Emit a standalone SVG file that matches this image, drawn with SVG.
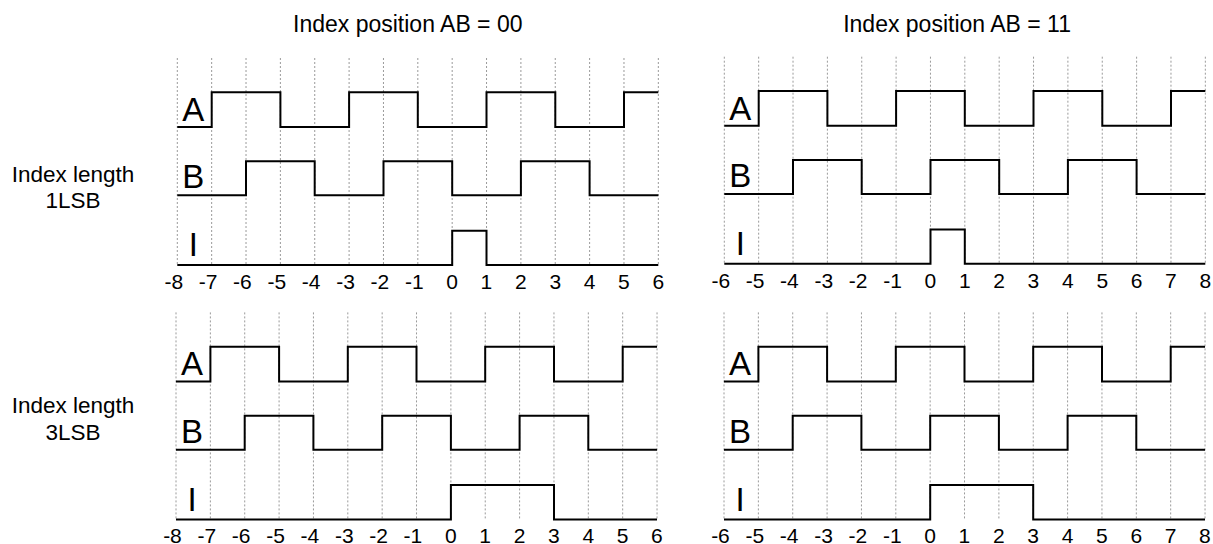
<svg xmlns="http://www.w3.org/2000/svg" xmlns:xlink="http://www.w3.org/1999/xlink" width="1213" height="544" viewBox="0 0 1213 544">
<style>
  text { font-family: "Liberation Sans", Arial, sans-serif; fill: #000; }
  .title { font-size: 23px; }
  .side { font-size: 22.5px; text-anchor: middle; }
  .sig { font-size: 33px; text-anchor: middle; }
  .ax { font-size: 21px; text-anchor: end; }
  .grid { stroke: #9a9a9a; stroke-width: 1; stroke-dasharray: 2 2; fill: none; }
  .wave { stroke: #000; stroke-width: 2; fill: none; stroke-linejoin: miter; }
</style>
<defs>
  <path id="grid" class="grid" d="M0,-34.3V172.7M34.36,-34.3V172.7M68.72,-34.3V172.7M103.08,-34.3V172.7M137.44,-34.3V172.7M171.8,-34.3V172.7M206.16,-34.3V172.7M240.52,-34.3V172.7M274.88,-34.3V172.7M309.24,-34.3V172.7M343.6,-34.3V172.7M377.96,-34.3V172.7M412.32,-34.3V172.7M446.68,-34.3V172.7M481.04,-34.3V172.7"/>
  <path id="waveA" class="wave" d="M0,34.7H34.4V0H103.1V34.7H171.8V0H240.5V34.7H309.2V0H378V34.7H446.7V0H481"/>
  <path id="waveB" class="wave" d="M0,103H68.7V69H137.4V103H206.2V69H274.9V103H343.6V69H412.3V103H481"/>
  <g id="labelsABI">
    <text class="sig" x="16" y="28.5">A</text>
    <text class="sig" x="16" y="96">B</text>
    <text class="sig" x="16" y="164">I</text>
  </g>
  <g id="axisLeft">
    <text class="ax" x="5.8" y="196.5">-8</text>
    <text class="ax" x="40.2" y="196.5">-7</text>
    <text class="ax" x="74.5" y="196.5">-6</text>
    <text class="ax" x="108.9" y="196.5">-5</text>
    <text class="ax" x="143.2" y="196.5">-4</text>
    <text class="ax" x="177.6" y="196.5">-3</text>
    <text class="ax" x="212" y="196.5">-2</text>
    <text class="ax" x="246.3" y="196.5">-1</text>
    <text class="ax" x="280.7" y="196.5">0</text>
    <text class="ax" x="315" y="196.5">1</text>
    <text class="ax" x="349.4" y="196.5">2</text>
    <text class="ax" x="383.8" y="196.5">3</text>
    <text class="ax" x="418.1" y="196.5">4</text>
    <text class="ax" x="452.5" y="196.5">5</text>
    <text class="ax" x="486.8" y="196.5">6</text>
  </g>
  <g id="axisRight">
    <text class="ax" x="5.8" y="196.5">-6</text>
    <text class="ax" x="40.2" y="196.5">-5</text>
    <text class="ax" x="74.5" y="196.5">-4</text>
    <text class="ax" x="108.9" y="196.5">-3</text>
    <text class="ax" x="143.2" y="196.5">-2</text>
    <text class="ax" x="177.6" y="196.5">-1</text>
    <text class="ax" x="212" y="196.5">0</text>
    <text class="ax" x="246.3" y="196.5">1</text>
    <text class="ax" x="280.7" y="196.5">2</text>
    <text class="ax" x="315" y="196.5">3</text>
    <text class="ax" x="349.4" y="196.5">4</text>
    <text class="ax" x="383.8" y="196.5">5</text>
    <text class="ax" x="418.1" y="196.5">6</text>
    <text class="ax" x="452.5" y="196.5">7</text>
    <text class="ax" x="486.8" y="196.5">8</text>
  </g>
</defs>

<g id="titles">
  <text class="title" x="293" y="32.3">Index position AB = 00</text>
  <text class="title" x="1071" y="32.3" text-anchor="end">Index position AB = 11</text>
</g>

<g id="row-labels">
  <text class="side" x="73" y="181.7">Index length</text>
  <text class="side" x="73" y="208.3">1LSB</text>
  <text class="side" x="73" y="413.3">Index length</text>
  <text class="side" x="73" y="440">3LSB</text>
</g>

<g id="panel-1lsb-ab00" transform="translate(177.3,92.3)">
  <use xlink:href="#grid" href="#grid"/>
  <use xlink:href="#waveA" href="#waveA"/>
  <use xlink:href="#waveB" href="#waveB"/>
  <path class="wave" d="M0,172.7H274.9V138.4H309.2V172.7H481"/>
  <use xlink:href="#labelsABI" href="#labelsABI"/>
  <use xlink:href="#axisLeft" href="#axisLeft"/>
</g>

<g id="panel-1lsb-ab11" transform="translate(724.3,91)">
  <use xlink:href="#grid" href="#grid"/>
  <use xlink:href="#waveA" href="#waveA"/>
  <use xlink:href="#waveB" href="#waveB"/>
  <path class="wave" d="M0,172.7H206.2V138.4H240.5V172.7H481"/>
  <use xlink:href="#labelsABI" href="#labelsABI"/>
  <use xlink:href="#axisRight" href="#axisRight"/>
</g>

<g id="panel-3lsb-ab00" transform="translate(176,346.7)">
  <use xlink:href="#grid" href="#grid"/>
  <use xlink:href="#waveA" href="#waveA"/>
  <use xlink:href="#waveB" href="#waveB"/>
  <path class="wave" d="M0,172.7H274.9V138.4H378V172.7H481"/>
  <use xlink:href="#labelsABI" href="#labelsABI"/>
  <use xlink:href="#axisLeft" href="#axisLeft"/>
</g>

<g id="panel-3lsb-ab11" transform="translate(724,346.7)">
  <use xlink:href="#grid" href="#grid"/>
  <use xlink:href="#waveA" href="#waveA"/>
  <use xlink:href="#waveB" href="#waveB"/>
  <path class="wave" d="M0,172.7H206.2V138.4H309.2V172.7H481"/>
  <use xlink:href="#labelsABI" href="#labelsABI"/>
  <use xlink:href="#axisRight" href="#axisRight"/>
</g>

<g id="connectors"></g>
</svg>
